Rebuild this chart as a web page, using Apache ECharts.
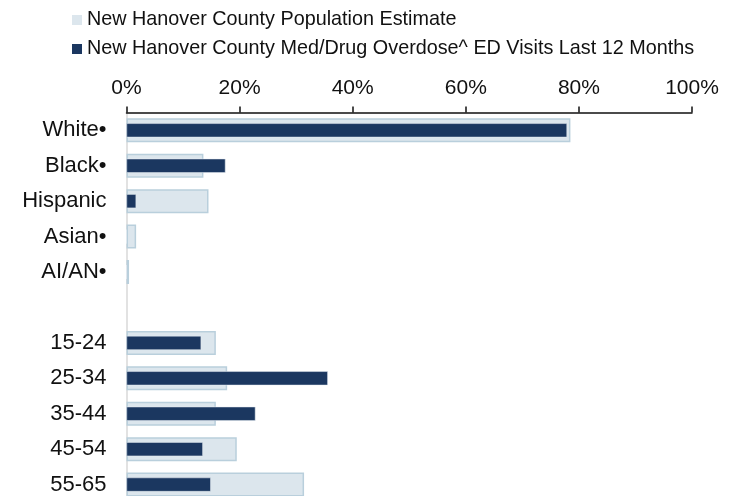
<!doctype html>
<html><head><meta charset="utf-8" />
<style>
  html,body{margin:0;padding:0;width:732px;height:496px;overflow:hidden;background:#ffffff}
  #app{width:732px;height:503px}
</style>
<script src="https://cdn.jsdelivr.net/npm/echarts@6.0.0/dist/echarts.min.js"></script>
</head><body><div id="app"></div>
<script>
// rows: race/ethnicity, a spacer row, then age groups
const categories = ['White•', 'Black•', 'Hispanic', 'Asian•', 'AI/AN•', '', '15-24', '25-34', '35-44', '45-54', '55-65'];
const popEstimate = [78.5, 13.6, 14.5, 1.7, 0.45, null, 15.8, 17.8, 15.8, 19.5, 31.4];
const edVisits = [77.9, 17.5, 1.7, 0, 0, null, 13.2, 35.6, 22.8, 13.5, 14.9];
const xTicks = [0, 20, 40, 60, 80, 100];
const popName = 'New Hanover County Population Estimate';
const edName = 'New Hanover County Med/Drug Overdose^ ED Visits Last 12 Months';

const font = '"Liberation Sans", Arial, Helvetica, sans-serif';
const chart = echarts.init(document.getElementById('app'));
const catAxis = {
  type: 'category', data: categories, inverse: true,
  axisTick: { show: false }
};
chart.setOption({
  backgroundColor: '#ffffff',
  animation: false,
  textStyle: { fontFamily: font },
  legend: {
    data: [popName, edName], orient: 'vertical', left: 67, top: 5,
    itemWidth: 10, itemHeight: 10, itemGap: 9, icon: 'rect',
    itemStyle: { borderWidth: 0 },
    textStyle: { fontFamily: font, fontSize: 19.8, lineHeight: 20, color: '#111111' }
  },
  // chart div runs a few px below the window, the last row is cut like in the source
  grid: { left: 126.5, right: 40, top: 112.6, height: 389.7 },
  xAxis: {
    type: 'value', position: 'top', min: xTicks[0], max: xTicks[xTicks.length - 1], interval: 20,
    axisLine: { show: true, lineStyle: { color: '#111111', width: 1.5 } },
    axisTick: { show: true, length: 6, lineStyle: { color: '#111111', width: 1.5 } },
    splitLine: { show: false },
    axisLabel: { formatter: '{value}%', color: '#111111', fontSize: 21, fontFamily: font, margin: 14 }
  },
  yAxis: [
    Object.assign({}, catAxis, {
      axisLine: { show: true, lineStyle: { color: '#d9d9d9', width: 1.5 } },
      axisLabel: { color: '#111111', fontSize: 22, fontFamily: font, margin: 20 }
    }),
    Object.assign({}, catAxis, { show: false })
  ],
  series: [
    { name: popName, type: 'bar', yAxisIndex: 0, data: popEstimate, barWidth: 24,
      itemStyle: { color: '#dce6ed', borderColor: '#b9cfdc', borderWidth: 1.5 } },
    { name: edName, type: 'bar', yAxisIndex: 1, data: edVisits, barWidth: 14,
      itemStyle: { color: '#1b3760', borderColor: '#e6edf2', borderWidth: 0.5 } }
  ]
});
</script></body></html>
